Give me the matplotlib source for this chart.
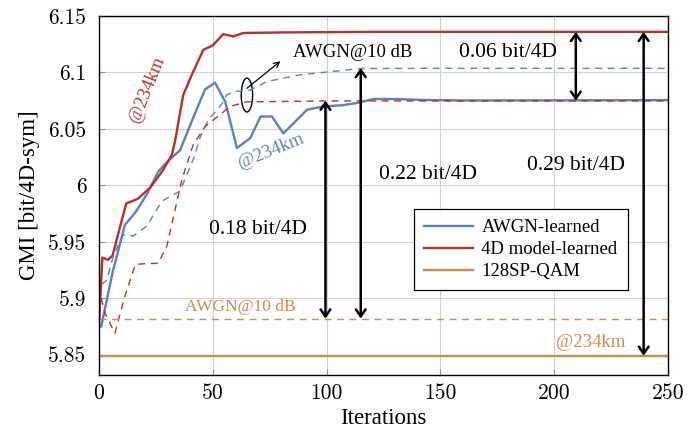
import matplotlib
matplotlib.use("Agg")
import matplotlib.pyplot as plt
from matplotlib.patches import Ellipse

# ---- data ----
# AWGN-learned, tested @234km (solid blue)
awgn_x = [1, 6, 11.4, 16, 21, 26, 30, 35.6, 41, 46.6, 51, 55.5, 60.6, 66.5, 71, 76, 81, 91.4, 98.6,
          107, 113.4, 120.6, 130, 142.6, 160, 200, 250]
awgn_y = [5.875, 5.923, 5.965, 5.976, 5.992, 6.012, 6.021, 6.031, 6.058, 6.085, 6.091, 6.074, 6.033,
          6.042, 6.061, 6.061, 6.046, 6.067, 6.070, 6.071, 6.073, 6.0765, 6.0765, 6.0757, 6.0752, 6.0753, 6.0755]

# AWGN-learned, tested @AWGN 10 dB (dashed blue)
awgn10_x = [1, 3.4, 6, 9, 10.7, 13, 15, 21, 27.6, 35.6, 42, 44.5, 48, 54, 56, 59, 66.5, 73.8, 81,
            88.5, 103, 115, 140, 200, 250]
awgn10_y = [5.912, 5.916, 5.935, 5.95, 5.956, 5.956, 5.955, 5.964, 5.986, 5.995, 6.026, 6.043, 6.058,
            6.072, 6.080, 6.083, 6.0845, 6.092, 6.095, 6.098, 6.101, 6.1035, 6.1037, 6.1037, 6.1037]

# 4D model-learned, tested @234km (solid red)
m4d_x = [0, 1.5, 4, 6, 10, 12, 17, 22.5, 28, 32, 33.5, 37, 40.8, 45.8, 50, 54.6, 59, 63.4, 80, 120, 250]
m4d_y = [5.877, 5.936, 5.934, 5.938, 5.969, 5.984, 5.988, 5.998, 6.013, 6.027, 6.040, 6.080, 6.098,
         6.120, 6.124, 6.134, 6.132, 6.135, 6.1355, 6.136, 6.136]

# 4D model-learned, tested @AWGN 10 dB (dashed red)
m4d10_x = [1, 2.6, 7, 11.4, 16, 19.5, 26, 29.8, 36.4, 41.4, 46.6, 54.6, 57.6, 65, 100, 250]
m4d10_y = [5.90, 5.887, 5.869, 5.902, 5.930, 5.9305, 5.931, 5.946, 6.005, 6.036, 6.052, 6.065,
           6.070, 6.074, 6.0748, 6.0748]

# 128SP-QAM baselines
qam_x = [0, 250]
qam_y = [5.849, 5.849]
qam10_y = [5.882, 5.882]

# double arrows: (x, y_low, y_high)
gap_x = [99.5, 115, 209.5, 239.3]
gap_lo = [5.882, 5.882, 6.075, 5.849]
gap_hi = [6.075, 6.104, 6.136, 6.136]

blue = "#5B80C0"
red = "#B8302A"
orange = "#CD8A4E"

plt.rcParams["font.family"] = ["Liberation Serif", "DejaVu Serif"]

fig = plt.figure(figsize=(7, 4.34), dpi=100)
ax = fig.add_axes([0.1414, 0.136, 0.8129, 0.827])

ax.plot(awgn_x, awgn_y, color=blue, lw=1.7, label="AWGN-learned")
ax.plot(m4d_x, m4d_y, color=red, lw=1.7, label="4D model-learned")
ax.plot(qam_x, qam_y, color=orange, lw=1.7, label="128SP-QAM")
ax.plot(awgn10_x, awgn10_y, color=blue, lw=1.0, ls=(0, (5, 4)))
ax.plot(m4d10_x, m4d10_y, color=red, lw=1.0, ls=(0, (5, 4)))
ax.plot(qam_x, qam10_y, color=orange, lw=1.0, ls=(0, (5, 4)))

for x, lo, hi in zip(gap_x, gap_lo, gap_hi):
    ax.annotate("", xy=(x, hi), xytext=(x, lo),
                arrowprops=dict(arrowstyle="<->,head_length=0.5,head_width=0.35",
                                color="black", lw=1.8, shrinkA=0, shrinkB=0))

ax.add_patch(Ellipse((65, 6.080), 5.0, 0.030, fill=False, ec="black", lw=1.0))
ax.annotate("", xy=(79.7, 6.110), xytext=(65, 6.086),
            arrowprops=dict(arrowstyle="->", color="black", lw=0.9, shrinkA=0, shrinkB=0))

big = 15.5
mid = 13.5
ax.text(111.4, 6.118, "AWGN@10 dB", fontsize=mid, ha="center", va="center")
ax.text(21, 6.085, "@234km", color=red, fontsize=mid, rotation=68, ha="center", va="center")
ax.text(75.7, 6.030, "@234km", color=blue, fontsize=mid, rotation=22, ha="center", va="center")
ax.text(179.6, 6.118, "0.06 bit/4D", fontsize=big, ha="center", va="center")
ax.text(144.4, 6.010, "0.22 bit/4D", fontsize=big, ha="center", va="center")
ax.text(209.5, 6.018, "0.29 bit/4D", fontsize=big, ha="center", va="center")
ax.text(70, 5.961, "0.18 bit/4D", fontsize=big, ha="center", va="center")
ax.text(62, 5.8925, "AWGN@10 dB", color=orange, fontsize=12.5, ha="center", va="center")
ax.text(216, 5.861, "@234km", color=orange, fontsize=mid, ha="center", va="center")

ax.set_xlim(0, 250)
ax.set_ylim(5.832, 6.15)
ax.set_xticks([0, 50, 100, 150, 200, 250])
ax.set_yticks([5.85, 5.9, 5.95, 6.0, 6.05, 6.1, 6.15])
ax.set_yticklabels(["5.85", "5.9", "5.95", "6", "6.05", "6.1", "6.15"])
ax.grid(True, color="#D0D0D0", lw=0.8)
ax.tick_params(direction="in", length=4, color="#909090", labelsize=15.5)
ax.tick_params(axis="y", pad=9)
ax.tick_params(axis="x", pad=6)
for lab in ax.get_xticklabels() + ax.get_yticklabels():
    lab.set_fontfamily("cmr10")
ax.set_xlabel("Iterations", fontsize=16.5, labelpad=4)
ax.set_ylabel("GMI [bit/4D-sym]", fontsize=16.5, labelpad=6)
for s in ax.spines.values():
    s.set_linewidth(1.0)

leg = ax.legend(loc="upper left", bbox_to_anchor=(0.5536, 0.4624), borderaxespad=0,
                fontsize=13.5, fancybox=False, edgecolor="black", framealpha=1,
                handlelength=2.6, handletextpad=0.45, borderpad=0.55, labelspacing=0.25)
leg.get_frame().set_linewidth(0.9)

fig.savefig("out.png", dpi=100)
